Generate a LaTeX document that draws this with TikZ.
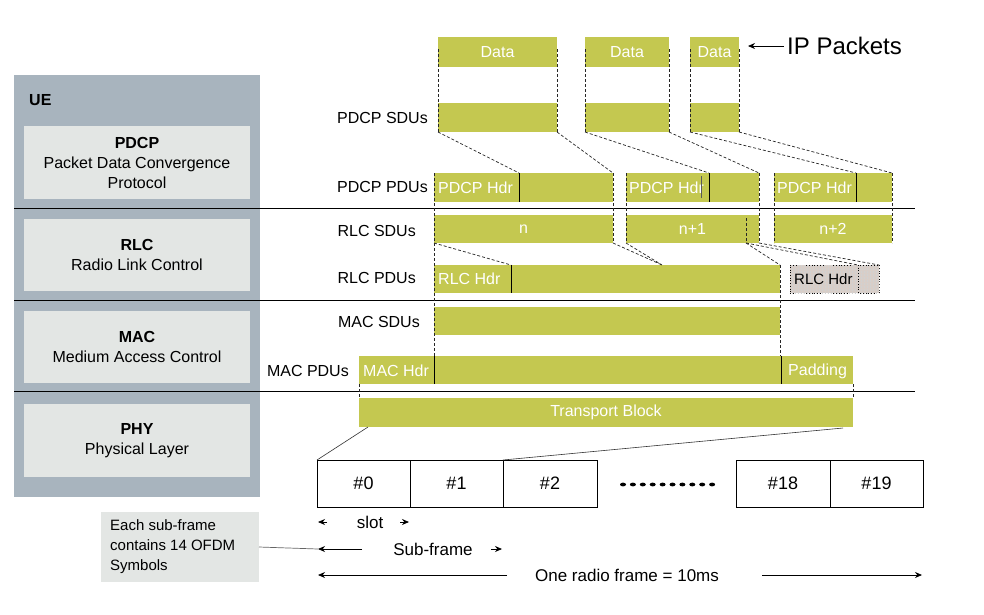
\documentclass[tikz,border=0pt]{standalone}
\usepackage{fontspec}
\setmainfont{Liberation Sans}
\usetikzlibrary{patterns,arrows.meta}
\definecolor{gcol}{RGB}{196,200,80}
\definecolor{uegray}{RGB}{168,180,190}
\definecolor{ltgray}{RGB}{227,230,228}
\definecolor{hatchbg}{RGB}{216,206,200}
\newcommand\fsz[1]{\fontsize{#1}{#1}\selectfont}
\newcommand\gboxnode[6]{\node[gbox,minimum width={#4-#2},minimum height={#5-#3}] (#1) at ({(#2+#4)/2},{(#3+#5)/2}) {#6};}
\begin{document}
\begin{tikzpicture}[x=1pt,y=-1pt,
  gbox/.style={fill=gcol,draw=none,inner sep=0pt,outer sep=0pt,text=white,font=\fsz{16}},
  intext/.style={anchor=west,inner sep=0pt,text=white,font=\fsz{16}},
  dsh/.style={draw=black!85,line width=0.7pt,dash pattern=on 3pt off 2pt},
  divl/.style={draw=black,line width=0.9pt},
  lbl/.style={anchor=east,inner sep=0pt,font=\fsz{16}},
  layerbox/.style={fill=ltgray,inner sep=0pt,outer sep=0pt,align=center,font=\fontsize{16}{20}\selectfont},
  sepline/.style={draw=black,line width=0.9pt},
  sfbox/.style={draw=black,line width=0.8pt,fill=white,inner sep=0pt,outer sep=0pt,minimum height=47,font=\fsz{18}},
  arr/.style={-{Stealth[length=7pt,width=6pt]},line width=0.8pt},
  tbline/.style={draw=black!80,line width=0.6pt}
]
\useasboundingbox (0,0) rectangle (984,614);
\fill[white] (0,0) rectangle (984,614);

% UE panel
\node[fill=uegray,inner sep=0pt,outer sep=0pt,minimum width=246,minimum height=422] (ue) at (137,286) {};
\node[anchor=west,inner sep=0pt,font=\fsz{16}\bfseries] (uelbl) at (29,100) {UE};
\node[layerbox,minimum width=226,minimum height=73] (pdcp) at (137,162.5) {\textbf{PDCP}\\Packet Data Convergence\\Protocol};
\node[layerbox,minimum width=226,minimum height=72] (rlc) at (137,255) {\textbf{RLC}\\Radio Link Control};
\node[layerbox,minimum width=226,minimum height=72] (mac) at (137,347) {\textbf{MAC}\\Medium Access Control};
\node[layerbox,minimum width=226,minimum height=73] (phy) at (137,440.5) {\textbf{PHY}\\Physical Layer};

% layer separators
\draw[sepline] (14,208) -- (915,208);
\draw[sepline] (14,300) -- (915,300);
\draw[sepline] (14,391) -- (915,391);

% IP packets
\gboxnode{d1}{438}{37}{557}{67}{Data}
\gboxnode{d2}{585}{37}{669}{67}{Data}
\gboxnode{d3}{690}{37}{739}{67}{Data}
\node[anchor=west,inner sep=3pt,font=\fsz{24}] (ip) at (784,46) {IP Packets};
\coordinate (iptip) at (748,46);
\draw[arr] (ip.west) -- (iptip);

% PDCP SDUs
\node[lbl] (lpdcpsdu) at (428,118) {PDCP SDUs};
\gboxnode{s1}{438}{103}{557}{132}{}
\gboxnode{s2}{585}{103}{669}{132}{}
\gboxnode{s3}{690}{103}{739}{132}{}

% PDCP PDUs
\node[lbl] (lpdcppdu) at (428,187) {PDCP PDUs};
\gboxnode{p1}{434}{173}{613}{202}{}
\gboxnode{p2}{626}{173}{759}{202}{}
\gboxnode{p3}{774}{173}{892}{202}{}
\node[intext] (p1t) at (438,188) {PDCP Hdr};
\node[intext] (p2t) at (629,188) {PDCP Hdr};
\node[intext] (p3t) at (777,188) {PDCP Hdr};
\coordinate (p1d) at (519,173);
\coordinate (p2d) at (709,173);
\coordinate (p3d) at (856,173);
\draw[divl] (p1d) -- (519,202);
\draw[divl] (p2d) -- (709,202);
\draw[divl] (p3d) -- (856,202);
\draw[line width=0.6pt,black!65] (701,176) -- (701,198);

% RLC SDUs
\node[lbl] (lrlcsdu) at (416,231) {RLC SDUs};
\gboxnode{r1}{434}{215}{613}{243}{n}
\gboxnode{r2}{626}{215}{759}{243}{n+1}
\gboxnode{r3}{774}{215}{892}{243}{n+2}
\coordinate (r2cut) at (746,243);
\draw[dsh] (746,218) -- (r2cut);

% RLC PDUs
\node[lbl] (lrlcpdu) at (416,278) {RLC PDUs};
\gboxnode{rp}{434}{265}{780}{293}{}
\node[intext] (rpt) at (438,279) {RLC Hdr};
\coordinate (rpd) at (511,265);
\coordinate (rpm) at (662,265);
\draw[divl] (rpd) -- (511,293);
\node[draw=black,dotted,line width=0.7pt,fill=hatchbg,postaction={pattern=grid,pattern color=black!18},
      inner sep=0pt,outer sep=0pt,minimum width=89,minimum height=28] (hp) at (834.5,279) {};
\node[anchor=west,inner sep=0pt,font=\fsz{15}] (hpt) at (794,279) {RLC Hdr};
\coordinate (hpd) at (858,265);
\draw[black,dotted,line width=0.7pt] (hpd) -- (858,293);

% MAC SDUs
\node[lbl] (lmacsdu) at (420,322) {MAC SDUs};
\gboxnode{ms}{434}{307}{780}{335}{}

% MAC PDUs
\node[lbl] (lmacpdu) at (349,371) {MAC PDUs};
\gboxnode{mp}{359}{356}{853}{384}{}
\node[intext] (mpt) at (363,371) {MAC Hdr};
\node[intext] (mpp) at (788,371) {Padding};
\draw[divl] (434,356) -- (434,384);
\draw[divl] (781,356) -- (781,384);

% Transport block
\gboxnode{tb}{359}{398}{853}{427}{Transport Block}

% dashed guide lines
\draw[dsh] ([yshift=-12pt]d1.north west) -- (s1.south west);
\draw[dsh] ([yshift=-12pt]d1.north east) -- (s1.south east);
\draw[dsh] ([yshift=-12pt]d2.north west) -- (s2.south west);
\draw[dsh] ([yshift=-12pt]d2.north east) -- (s2.south east);
\draw[dsh] ([yshift=-12pt]d3.north west) -- (s3.south west);
\draw[dsh] ([yshift=-12pt]d3.north east) -- (s3.south east);
\draw[dsh] (s1.south west) -- (p1d);
\draw[dsh] (s1.south east) -- (p1.north east);
\draw[dsh] (s2.south west) -- (p2d);
\draw[dsh] (s2.south east) -- (p2.north east);
\draw[dsh] (s3.south west) -- (p3d);
\draw[dsh] (s3.south east) -- (p3.north east);
\draw[dsh] (p1.north west) -- (p1.north west |- mp.north);
\draw[dsh] (p1.north east) -- (r1.south east);
\draw[dsh] (p2.north west) -- (r2.south west);
\draw[dsh] (p2.north east) -- (r2.south east);
\draw[dsh] (p3.north west) -- (r3.south west);
\draw[dsh] (p3.north east) -- (r3.south east);
\draw[dsh] (r1.south west) -- (rpd);
\draw[dsh] (r1.south east) -- (rpm);
\draw[dsh] (r2.south west) -- (rpm);
\draw[dsh] (r2cut) -- (rp.north east);
\draw[dsh] (r2cut) -- (hpd);
\draw[dsh] (r2.south east) -- (hp.north east);
\draw[dsh] (rp.north east) -- (rp.north east |- mp.north);
\draw[dsh] (mp.south west) -- (tb.north west);
\draw[dsh] (mp.south east) -- (tb.north east);

% sub-frames
\node[sfbox,minimum width=93] (sf0) at (363.5,483.5) {\#0};
\node[sfbox,minimum width=93] (sf1) at (456.5,483.5) {\#1};
\node[sfbox,minimum width=94] (sf2) at (550,483.5) {\#2};
\node[sfbox,minimum width=94] (sf18) at (783,483.5) {\#18};
\node[sfbox,minimum width=93] (sf19) at (876.5,483.5) {\#19};
\foreach \i in {0,...,9} \fill (623+\i*9.9,484.5) ellipse[x radius=3pt,y radius=1.9pt];
\coordinate (tbl) at (368,427);
\coordinate (tbr) at (843,428);
\draw[tbline] (tbl) -- (sf0.north west);
\draw[tbline] (tbr) -- (sf2.north west);

% time arrows
\node[inner sep=0pt,font=\fsz{17}] (slot) at (370,522) {slot};
\coordinate (sl1) at (327,522); \coordinate (sl1t) at (318,522);
\coordinate (sl2) at (400,522); \coordinate (sl2t) at (409,522);
\draw[arr] (sl1) -- (sl1t);
\draw[arr] (sl2) -- (sl2t);
\node[inner sep=0pt,font=\fsz{17}] (subf) at (433,549) {Sub-frame};
\coordinate (sf1a) at (362,549); \coordinate (sf1at) at (318,549);
\coordinate (sf2a) at (491,549); \coordinate (sf2at) at (502,549);
\draw[arr] (sf1a) -- (sf1at);
\draw[arr] (sf2a) -- (sf2at);
\node[inner sep=0pt,font=\fsz{17}] (radio) at (627,575) {One radio frame = 10ms};
\coordinate (rf1) at (507,575); \coordinate (rf1t) at (318,575);
\coordinate (rf2) at (762,575); \coordinate (rf2t) at (922,575);
\draw[arr] (rf1) -- (rf1t);
\draw[arr] (rf2) -- (rf2t);

% note
\node[fill=ltgray,inner sep=0pt,outer sep=0pt,minimum width=158,minimum height=70] (note) at (180,547) {};
\node[anchor=west,inner sep=0pt,align=left,font=\fontsize{15}{20}\selectfont] (notet) at (110,547) {Each sub-frame\\contains 14 OFDM\\Symbols};
\draw[draw=black!60,line width=0.7pt] (note.east) -- (sf1at);
\end{tikzpicture}
\end{document}
